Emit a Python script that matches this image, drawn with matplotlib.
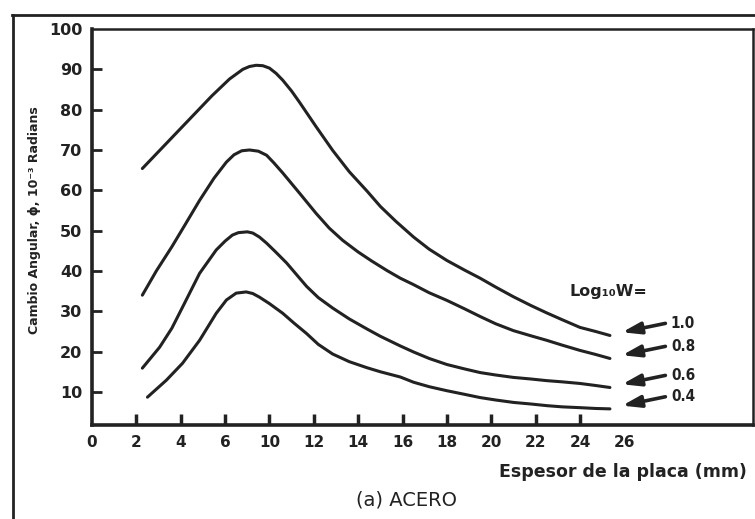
import matplotlib
matplotlib.use("Agg")
from matplotlib import pyplot as plt
from matplotlib.lines import Line2D

# --- Datos (x en posiciones de la escala dibujada) ---
x_10 = [2.27, 3.0, 3.8, 4.6, 5.4, 6.2, 6.8, 7.1, 7.4, 7.7, 8.0, 8.3, 8.6, 9.0, 9.36, 10.1,
        10.85, 11.6, 12.4, 13.0, 13.7, 14.5, 15.2, 16.0, 16.8, 17.5, 18.2, 19.0, 19.8, 20.5,
        21.2, 22.0, 22.7, 23.35]
y_10 = [65.4, 69.6, 74.2, 78.8, 83.4, 87.6, 90.0, 90.7, 91.0, 90.9, 90.3, 89.0, 87.3, 84.6,
        81.8, 75.8, 69.9, 64.6, 59.8, 56.0, 52.3, 48.4, 45.4, 42.6, 40.2, 38.2, 36.0, 33.6,
        31.4, 29.6, 27.9, 26.0, 25.0, 24.0]

x_08 = [2.27, 2.9, 3.6, 4.2, 4.85, 5.5, 6.06, 6.4, 6.75, 7.1, 7.5, 7.87, 8.2, 8.6, 9.4,
        10.1, 10.7, 11.3, 12.0, 12.6, 13.3, 13.9, 14.5, 15.2, 16.0, 16.8, 17.5, 18.2, 19.0,
        19.8, 20.5, 21.2, 22.0, 22.7, 23.35]
y_08 = [34.0, 40.0, 46.0, 51.5, 57.5, 63.0, 67.0, 68.8, 69.8, 70.0, 69.7, 68.7, 66.8, 64.3,
        59.0, 54.3, 50.6, 47.6, 44.7, 42.5, 40.1, 38.2, 36.6, 34.6, 32.7, 30.6, 28.7, 26.9,
        25.2, 23.9, 22.8, 21.6, 20.3, 19.3, 18.3]

x_06 = [2.27, 3.05, 3.6, 4.08, 4.85, 5.6, 6.0, 6.33, 6.6, 7.0, 7.25, 7.55, 7.87, 8.3, 8.77,
        9.67, 10.2, 10.85, 11.6, 12.4, 13.0, 13.9, 14.5, 15.2, 16.0, 16.8, 17.5, 18.2, 19.0,
        19.8, 20.5, 21.2, 22.0, 22.7, 23.35]
y_06 = [15.9, 21.1, 25.8, 31.0, 39.4, 45.2, 47.4, 48.9, 49.5, 49.7, 49.4, 48.4, 46.9, 44.6,
        42.0, 36.2, 33.4, 30.8, 28.1, 25.6, 23.8, 21.4, 19.9, 18.3, 16.8, 15.7, 14.8, 14.2,
        13.6, 13.2, 12.8, 12.5, 12.1, 11.6, 11.1]

x_04 = [2.5, 3.35, 4.08, 4.85, 5.6, 6.06, 6.5, 6.95, 7.25, 7.55, 8.0, 8.6, 9.1, 9.67, 10.2,
        10.85, 11.6, 12.4, 13.0, 13.9, 14.5, 15.2, 16.0, 16.8, 17.5, 18.2, 19.0, 19.8, 20.5,
        21.2, 22.0, 22.7, 23.35]
y_04 = [8.7, 12.9, 17.1, 22.8, 29.5, 32.8, 34.5, 34.8, 34.4, 33.5, 31.9, 29.5, 27.1, 24.5,
        21.8, 19.4, 17.5, 16.0, 15.0, 13.7, 12.4, 11.3, 10.3, 9.4, 8.6, 8.0, 7.4, 7.0, 6.6,
        6.3, 6.1, 5.9, 5.8]

curvas = [(x_10, y_10, "1.0"), (x_08, y_08, "0.8"), (x_06, y_06, "0.6"), (x_04, y_04, "0.4")]

# Escala del eje x tal como esta rotulada en el original (falta el 8)
x_ticks = list(range(0, 26, 2))
x_labels = ["0", "2", "4", "6", "10", "12", "14", "16", "18", "20", "22", "24", "26"]
y_ticks = list(range(10, 101, 10))

# --- Figura ---
plt.rcParams["font.family"] = "DejaVu Sans"
plt.rcParams["font.weight"] = "bold"
c = "#222222"

fig = plt.figure(figsize=(7.55, 5.19), dpi=100)
ax = fig.add_axes([92/755, 1 - 425/519, (753 - 92)/755, (425 - 29)/519])

for x, y, lab in curvas:
    ax.plot(x, y, color=c, lw=2.2, solid_capstyle="round", solid_joinstyle="round")

ax.set_xlim(0, 29.8)
ax.set_ylim(1.8, 100)

ax.set_xticks(x_ticks, x_labels)
ax.set_yticks(y_ticks)
ax.tick_params(axis="x", direction="in", length=8, width=2.5, pad=7, labelsize=11, colors=c)
ax.tick_params(axis="y", direction="in", length=7, width=2, pad=7, labelsize=11.5, colors=c)
xt = ax.xaxis.get_major_ticks()
xt[0].tick1line.set_visible(False)
xt[-1].tick1line.set_visible(False)
ax.yaxis.get_major_ticks()[-1].tick1line.set_visible(False)

for s in ["left", "bottom"]:
    ax.spines[s].set_linewidth(2.6)
for s in ["top", "right"]:
    ax.spines[s].set_linewidth(1.8)
for s in ax.spines.values():
    s.set_color(c)

# Flechas y rotulos de Log10 W
ax.text(23.3, 34.8, "Log₁₀W=", fontsize=11.5, ha="center", va="center", color=c)
for x, y, lab in curvas:
    hx, hy = x[-1] + 0.55, y[-1] + 0.8
    tx, ty = hx + 1.95, hy + 2.2
    ax.annotate("", xy=(hx, hy), xytext=(tx, ty),
                arrowprops=dict(arrowstyle="-|>,head_length=1.1,head_width=0.35",
                                lw=2.6, color=c, shrinkA=0, shrinkB=0, mutation_scale=10))
    ax.text(tx + 0.25, ty, lab, fontsize=11, ha="left", va="center", color=c,
            fontstretch="condensed")

# Titulos de ejes
fig.text(35/755, 1 - 220/519, "Cambio Angular, ϕ, 10⁻³ Radians", rotation=90,
         ha="center", va="center", fontsize=9, color=c)
fig.text(747/755, 1 - 472/519, "Espesor de la placa (mm)", ha="right", va="center",
         fontsize=12.5, color=c)
fig.text(406/755, 1 - 500/519, "(a) ACERO", ha="center", va="center",
         fontsize=14, fontweight="normal", color=c)

# Marco exterior del escaneo
fig.add_artist(Line2D([12/755, 1], [1 - 15/519, 1 - 15/519], color=c, lw=2,
                      transform=fig.transFigure))
fig.add_artist(Line2D([13/755, 13/755], [0, 1 - 15/519], color=c, lw=2,
                      transform=fig.transFigure))

plt.savefig("out.png", dpi=100)
